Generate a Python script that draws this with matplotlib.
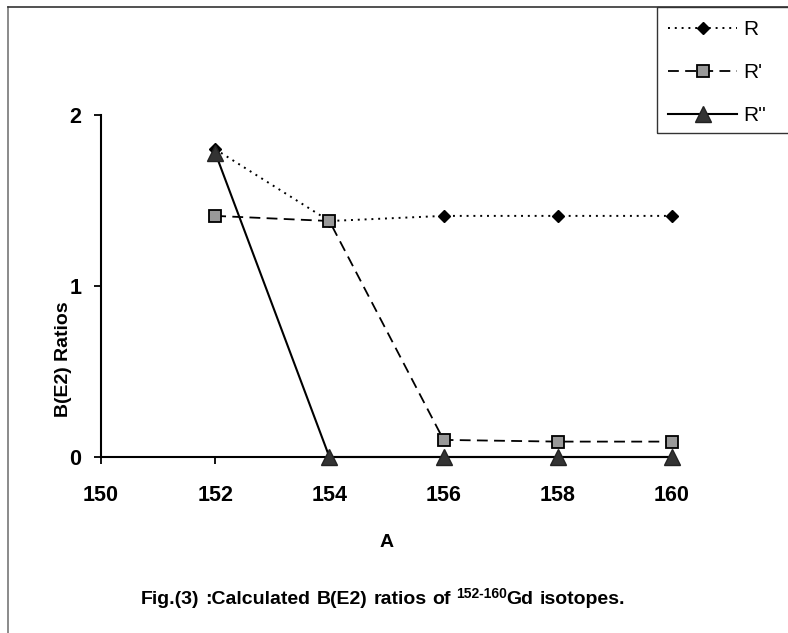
import matplotlib
matplotlib.use("Agg")
import matplotlib.pyplot as plt
from matplotlib.lines import Line2D
from matplotlib.patches import Rectangle

plt.rcParams['font.family'] = ['Liberation Sans', 'DejaVu Sans']

A = [152, 154, 156, 158, 160]
r = [1.80, 1.38, 1.41, 1.41, 1.41]
r_prime = [1.41, 1.38, 0.10, 0.09, 0.09]
r_dprime = [1.78, 0.0, 0.0, 0.0, 0.0]
x_ticks = [150, 152, 154, 156, 158, 160]
y_ticks = [0, 1, 2]

W, H = 788, 633
fig = plt.figure(figsize=(7.88, 6.33), dpi=100)
ax = fig.add_axes([101 / W, 1 - 457 / H, (672 - 101) / W, (457 - 115) / H])

ax.plot(A, r, color='black', linestyle=(0, (1, 2.5)), linewidth=1.4,
        marker='D', markersize=6.5, markerfacecolor='black', markeredgecolor='black',
        label='R', clip_on=False, zorder=3)
ax.plot(A, r_prime, color='black', linestyle=(0, (6, 3.5)), linewidth=1.3,
        marker='s', markersize=8, markerfacecolor='#999999', markeredgecolor='black',
        markeredgewidth=1.3, label="R'", clip_on=False, zorder=4)
ax.plot(A, r_dprime, color='black', linestyle='-', linewidth=1.5,
        marker='^', markersize=12, markerfacecolor='#333333', markeredgecolor='#222222',
        label="R''", clip_on=False, zorder=5)

ax.set_xlim(150, 160)
ax.set_ylim(0, 2)
ax.set_xticks(x_ticks)
ax.set_yticks(y_ticks)
for s in ['top', 'right']:
    ax.spines[s].set_visible(False)
for s in ['left', 'bottom']:
    ax.spines[s].set_linewidth(1.5)
ax.tick_params(direction='out', length=5, width=1.3, labelsize=15.5)
ax.tick_params(axis='x', pad=15)
ax.tick_params(axis='y', pad=9)
for lbl in ax.get_xticklabels() + ax.get_yticklabels():
    lbl.set_fontweight('bold')

ax.set_xlabel('A', fontsize=14, fontweight='bold', labelpad=20)
ax.set_ylabel('B(E2) Ratios', fontsize=14, fontweight='bold')
ax.yaxis.set_label_coords(-0.05, (457 - 359) / 342)

leg = fig.legend(loc='upper left', bbox_to_anchor=(660 / W, 1 - 12 / H),
                 fontsize=15, frameon=False,
                 handlelength=3.3, handletextpad=0.3, labelspacing=1.15,
                 borderpad=0.4, borderaxespad=0)
fig.add_artist(Rectangle((657 / W, 1 - 133 / H), 200 / W, 126 / H,
                         transform=fig.transFigure, fill=False,
                         edgecolor='#333333', linewidth=1.0, clip_on=False))

# outer chart border
fig.add_artist(Line2D([8 / W, 8 / W], [0, 1 - 7 / H], color='#777777', linewidth=1.2))
fig.add_artist(Line2D([8 / W, 1], [1 - 7 / H, 1 - 7 / H], color='#333333', linewidth=1.2))

# caption with superscript, words spaced a little wider like the original
fig.canvas.draw()
renderer = fig.canvas.get_renderer()
parts = [("Fig.(3)", 14, 0.0, 6), (":Calculated", 14, 0.0, 6), ("B(E2)", 14, 0.0, 6),
         ("ratios", 14, 0.0, 6), ("of", 14, 0.0, 5), ("152-160", 10, 6.5, 0),
         ("Gd", 14, 0.0, 6), ("isotopes.", 14, 0.0, 0)]
x0 = 141
base_y = H - 604
for txt, size, dy, gap in parts:
    t = fig.text(x0 / W, (base_y + dy) / H, txt, fontsize=size,
                 fontweight='bold', ha='left', va='baseline')
    bb = t.get_window_extent(renderer)
    x0 = bb.x1 + gap

fig.savefig('out.png', dpi=100)
